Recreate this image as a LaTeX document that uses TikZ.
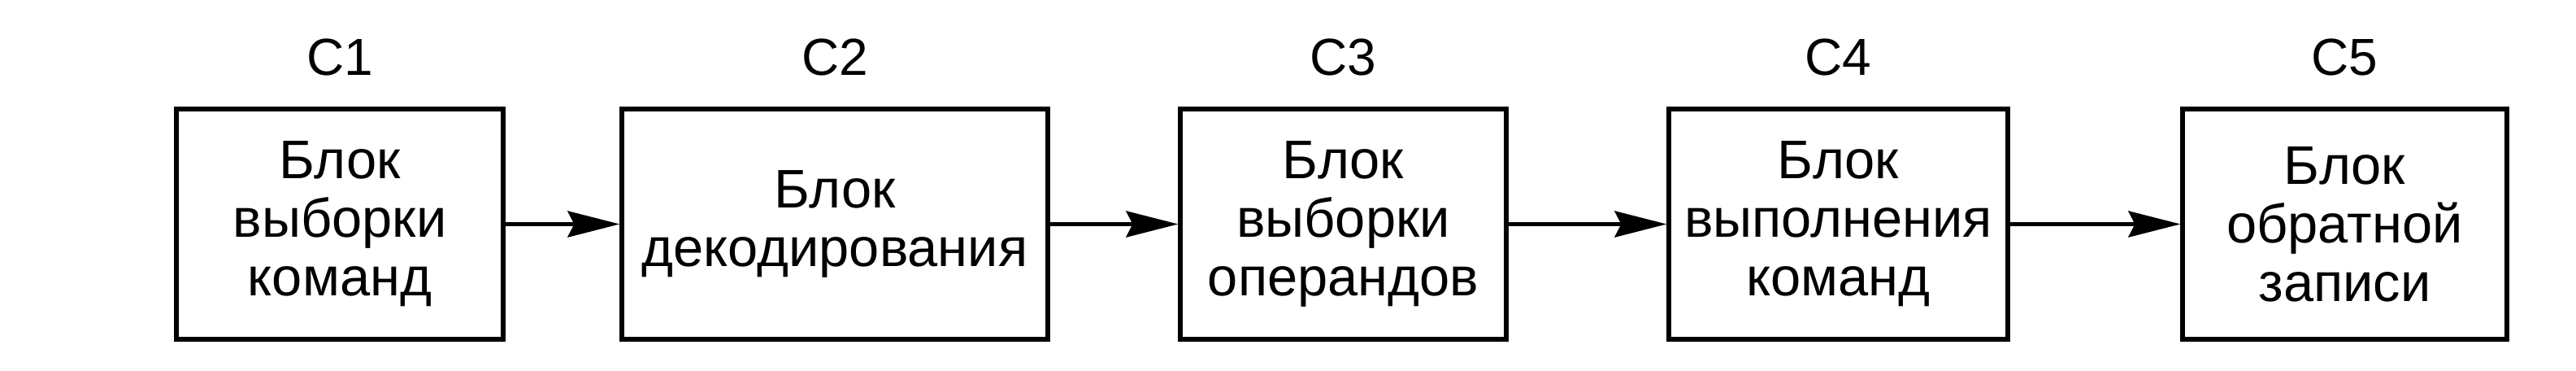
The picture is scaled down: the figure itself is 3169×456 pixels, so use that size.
\documentclass[tikz,border=0pt]{standalone}
\usepackage{fontspec}
\setmainfont{Liberation Sans}
\usetikzlibrary{arrows.meta}
\begin{document}
\begin{tikzpicture}[x=0.25pt,y=-0.25pt,
  blk/.style={draw, line width=1.3pt, minimum height=70.75pt, inner sep=0pt,
    align=center, font=\fontsize{16.7pt}{18pt}\selectfont},
  lbl/.style={anchor=base, font=\fontsize{16pt}{18pt}\selectfont},
  conn/.style={line width=1.3pt, -{Stealth[length=16pt,width=8pt,inset=2pt]}}]
\useasboundingbox (0,0) rectangle (3169,456);
\node[blk, minimum width=100.5pt] (b1) at (418,275.5) {Блок\\выборки\\команд};
\node[blk, minimum width=131pt] (b2) at (1027,275.5) {Блок\\декодирования};
\node[blk, minimum width=100.25pt] (b3) at (1652.5,275.5) {Блок\\выборки\\операндов};
\node[blk, minimum width=104.25pt] (b4) at (2261.5,275.5) {Блок\\выполнения\\команд};
\node[blk, minimum width=99.75pt] (b5) at (2884.5,275.5) {Блок\\обратной\\записи};
\node[lbl] (c1) at (418,93) {C1};
\node[lbl] (c2) at (1027,93) {C2};
\node[lbl] (c3) at (1652.5,93) {C3};
\node[lbl] (c4) at (2261.5,93) {C4};
\node[lbl] (c5) at (2884.5,93) {C5};
\draw[conn] (b1.east) -- (b2.west);
\draw[conn] (b2.east) -- (b3.west);
\draw[conn] (b3.east) -- (b4.west);
\draw[conn] (b4.east) -- (b5.west);
\end{tikzpicture}
\end{document}
